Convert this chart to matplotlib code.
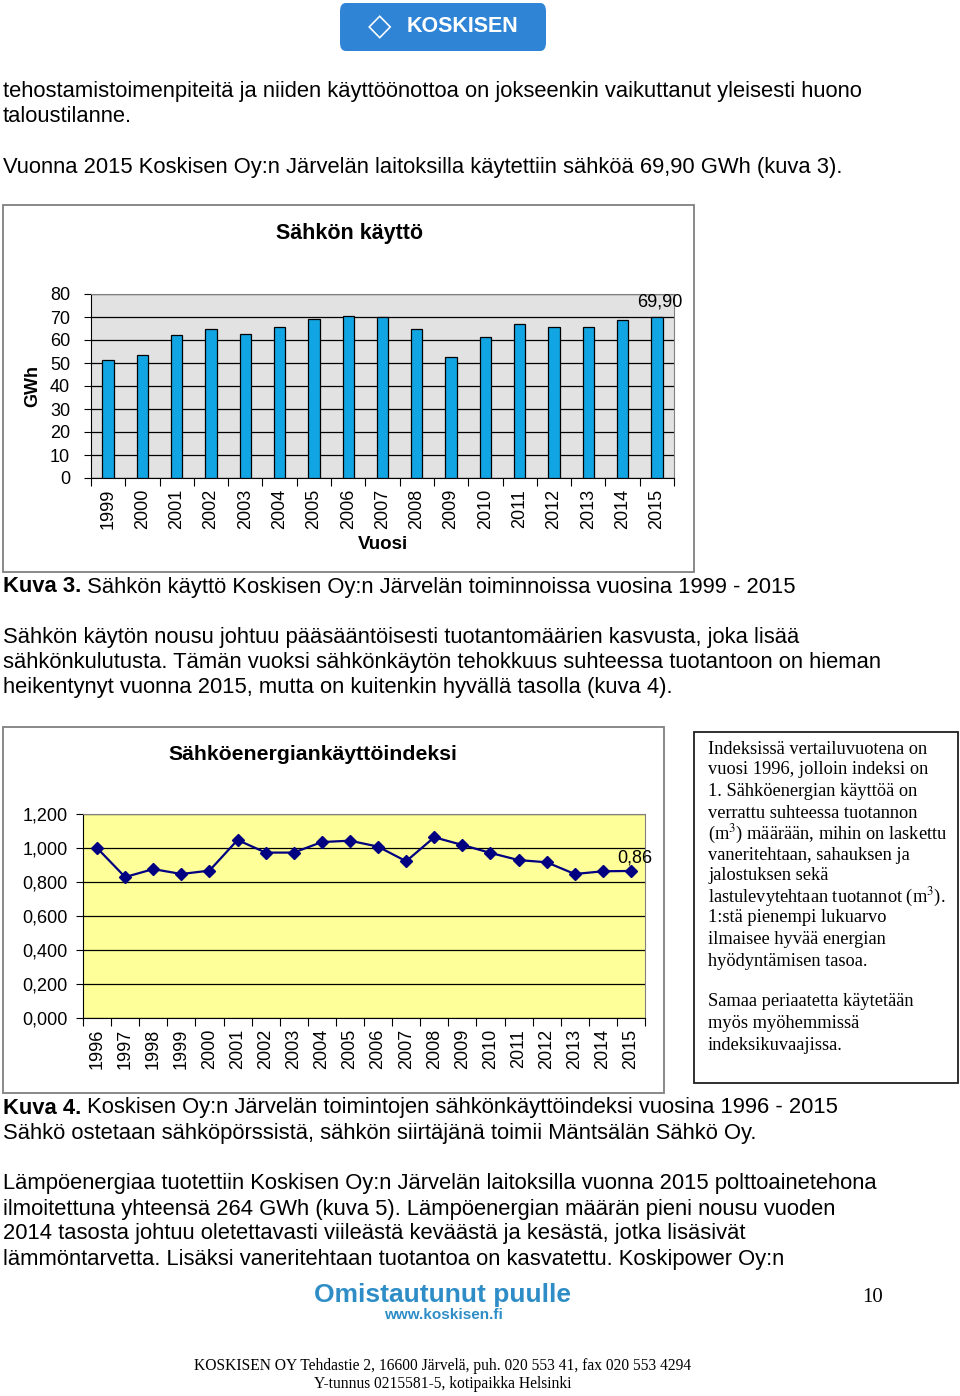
import numpy as np
import matplotlib
matplotlib.use("Agg")
import matplotlib.pyplot as plt
from matplotlib.patches import Rectangle, FancyBboxPatch

plt.rcParams['font.family'] = ['Liberation Sans', 'DejaVu Sans']
plt.rcParams['mathtext.fontset'] = 'stix'

W, H = 960, 1396

# data: electricity use, GWh
bar_years = [str(y) for y in range(1999, 2016)]
bar_gwh = [51.5, 53.4, 62.3, 64.6, 62.7, 65.7, 69.2, 70.4, 69.8, 65.0,
           52.8, 61.5, 66.9, 65.7, 65.5, 68.8, 69.9]

# data: electricity use index (1996 = 1)
idx_years = [str(y) for y in range(1996, 2016)]
idx_vals = [1.000, 0.829, 0.876, 0.847, 0.867, 1.047, 0.973, 0.973, 1.035, 1.043,
            1.008, 0.922, 1.063, 1.018, 0.971, 0.929, 0.916, 0.847, 0.863, 0.865]

body_lines = [
    (90, "tehostamistoimenpiteitä ja niiden käyttöönottoa on jokseenkin vaikuttanut yleisesti huono"),
    (116, "taloustilanne."),
    (166, "Vuonna 2015 Koskisen Oy:n Järvelän laitoksilla käytettiin sähköä 69,90 GWh (kuva 3)."),
    (636, "Sähkön käytön nousu johtuu pääsääntöisesti tuotantomäärien kasvusta, joka lisää"),
    (661, "sähkönkulutusta. Tämän vuoksi sähkönkäytön tehokkuus suhteessa tuotantoon on hieman"),
    (687, "heikentynyt vuonna 2015, mutta on kuitenkin hyvällä tasolla (kuva 4)."),
    (1132, "Sähkö ostetaan sähköpörssistä, sähkön siirtäjänä toimii Mäntsälän Sähkö Oy."),
    (1182, "Lämpöenergiaa tuotettiin Koskisen Oy:n Järvelän laitoksilla vuonna 2015 polttoainetehona"),
    (1208, "ilmoitettuna yhteensä 264 GWh (kuva 5). Lämpöenergian määrän pieni nousu vuoden"),
    (1233, "2014 tasosta johtuu oletettavasti viileästä keväästä ja kesästä, jotka lisäsivät"),
    (1258, "lämmöntarvetta. Lisäksi vaneritehtaan tuotantoa on kasvatettu. Koskipower Oy:n"),
]
captions = [
    (586, "Kuva 3.", " Sähkön käyttö Koskisen Oy:n Järvelän toiminnoissa vuosina 1999 - 2015"),
    (1107, "Kuva 4.", " Koskisen Oy:n Järvelän toimintojen sähkönkäyttöindeksi vuosina 1996 - 2015"),
]
box_lines = [
    (749, "Indeksissä vertailuvuotena on"),
    (770, "vuosi 1996, jolloin indeksi on"),
    (792, "1. Sähköenergian käyttöä on"),
    (813, "verrattu suhteessa tuotannon"),
    (834, "(m$^3$) määrään, mihin on laskettu"),
    (855, "vaneritehtaan, sahauksen ja"),
    (876, "jalostuksen sekä"),
    (897, "lastulevytehtaan tuotannot (m$^3$)."),
    (918, "1:stä pienempi lukuarvo"),
    (939, "ilmaisee hyvää energian"),
    (961, "hyödyntämisen tasoa."),
    (1002, "Samaa periaatetta käytetään"),
    (1023, "myös myöhemmissä"),
    (1045, "indeksikuvaajissa."),
]


def fx(x):
    return x / W


def fy(y):
    return 1 - y / H


def px_axes(fig, x0, y0, x1, y1):
    return fig.add_axes([fx(x0), fy(y1), (x1 - x0) / W, (y1 - y0) / H])


fig = plt.figure(figsize=(W / 100, H / 100), dpi=100)

# header logo
logo = FancyBboxPatch((fx(340), fy(51)), (546 - 340) / W, 48 / H,
                      boxstyle="round,pad=0,rounding_size=0.006",
                      transform=fig.transFigure, facecolor='#2f84d6',
                      edgecolor='none')
fig.patches.append(logo)
fig.text(fx(380), fy(27), "\u25c7", color='white', fontsize=22, ha='center',
         va='center', fontweight='bold', family=['DejaVu Sans'])
fig.text(fx(462), fy(27), "KOSKISEN", color='white', fontsize=15.5,
         ha='center', va='center', fontweight='bold')

# body text
BODY = 15.8
for y, s in body_lines:
    fig.text(fx(3), fy(y + 1), s, fontsize=BODY, va='center', ha='left')

renderer = fig.canvas.get_renderer()
for y, b, s in captions:
    t = fig.text(fx(3), fy(y + 1), b, fontsize=BODY, va='center', ha='left',
                 fontweight='bold')
    bb = t.get_window_extent(renderer)
    fig.text(bb.x1 / W, fy(y + 1), s, fontsize=BODY, va='center', ha='left')

# chart frames
for x0, y0, x1, y1 in [(3, 205, 694, 572), (3, 727, 664, 1093), (694, 732, 958, 1083)]:
    ec = '#808080' if x0 == 3 else '#202020'
    fig.patches.append(Rectangle((fx(x0), fy(y1)), (x1 - x0) / W, (y1 - y0) / H,
                                 transform=fig.transFigure, fill=False,
                                 edgecolor=ec, linewidth=1.3))

# bar chart
ax1 = px_axes(fig, 91, 294, 674, 478)
xb = np.arange(len(bar_years))
ax1.bar(xb, bar_gwh, width=0.33, color='#12a5e3', edgecolor='black',
        linewidth=0.9, zorder=3)
ax1.set_facecolor('#e2e2e2')
ax1.set_xlim(-0.5, len(bar_years) - 0.5)
ax1.set_ylim(0, 80)
ax1.set_yticks(range(0, 81, 10))
ax1.yaxis.grid(True, color='black', linewidth=0.9, zorder=1)
ax1.set_xticks(xb)
ax1.set_xticklabels(bar_years, rotation=90, fontsize=13)
ax1.set_xticks(np.arange(-0.5, len(bar_years), 1), minor=True)
ax1.tick_params(axis='x', which='major', length=0, pad=8)
ax1.tick_params(axis='x', which='minor', length=6, width=0.8)
ax1.tick_params(axis='y', labelsize=13, length=5, width=0.8, pad=10)
for side in ['top', 'right']:
    ax1.spines[side].set_color('#808080')
for side in ['left', 'bottom']:
    ax1.spines[side].set_color('black')
ax1.text(xb[-1] + 0.1, bar_gwh[-1] + 3, "69,90", ha='center', va='bottom', fontsize=13)
ax1.set_ylabel("GWh", fontsize=13, fontweight='bold', labelpad=6)
ax1.set_xlabel("Vuosi", fontsize=13.5, fontweight='bold', labelpad=5)
fig.text(fx(349), fy(234), "Sähkön käyttö", fontsize=15.5, fontweight='bold',
         ha='center', va='center')

# index line chart
ax2 = px_axes(fig, 83, 814, 645, 1018)
xi = np.arange(len(idx_years))
ax2.plot(xi, idx_vals, color='#000080', marker='D', markersize=6,
         linewidth=1.6, zorder=3)
ax2.set_facecolor('#ffff99')
ax2.set_xlim(-0.5, len(idx_years) - 0.5)
ax2.set_ylim(0, 1.2)
yt = np.arange(0, 1.21, 0.2)
ax2.set_yticks(yt)
ax2.set_yticklabels([f"{v:.3f}".replace('.', ',') for v in yt])
ax2.yaxis.grid(True, color='black', linewidth=0.9, zorder=1)
ax2.set_xticks(xi)
ax2.set_xticklabels(idx_years, rotation=90, fontsize=13)
ax2.set_xticks(np.arange(-0.5, len(idx_years), 1), minor=True)
ax2.tick_params(axis='x', which='major', length=0, pad=8)
ax2.tick_params(axis='x', which='minor', length=6, width=0.8)
ax2.tick_params(axis='y', labelsize=13, length=5, width=0.8, pad=6)
for side in ['top', 'right']:
    ax2.spines[side].set_color('#808080')
for side in ['left', 'bottom']:
    ax2.spines[side].set_color('black')
ax2.text(xi[-1] + 0.15, idx_vals[-1] + 0.025, "0,86", ha='center', va='bottom',
         fontsize=13)
fig.text(fx(313), fy(755), "Sähköenergiankäyttöindeksi", fontsize=15.3,
         fontweight='bold', ha='center', va='center')

# side text box
for y, s in box_lines:
    fig.text(fx(708), fy(y), s, fontsize=13.2, va='center', ha='left',
             family=['Liberation Serif', 'DejaVu Serif'])

# footer
fig.text(fx(443), fy(1295), "Omistautunut puulle", fontsize=19,
         fontweight='bold', color='#2e8dc6', ha='center', va='center')
fig.text(fx(443), fy(1315), "www.koskisen.fi", fontsize=11,
         fontweight='bold', color='#2e8dc6', ha='center', va='center')
fig.text(fx(873), fy(1298), "10", fontsize=15, ha='center', va='center',
         family=['Liberation Serif'])
fig.text(fx(443), fy(1366), "KOSKISEN OY Tehdastie 2, 16600 Järvelä, puh. 020 553 41, fax 020 553 4294",
         fontsize=11.2, ha='center', va='center', family=['Liberation Serif'])
fig.text(fx(443), fy(1384), "Y-tunnus 0215581-5, kotipaikka Helsinki",
         fontsize=11.2, ha='center', va='center', family=['Liberation Serif'])

fig.savefig("out.png", dpi=100)
